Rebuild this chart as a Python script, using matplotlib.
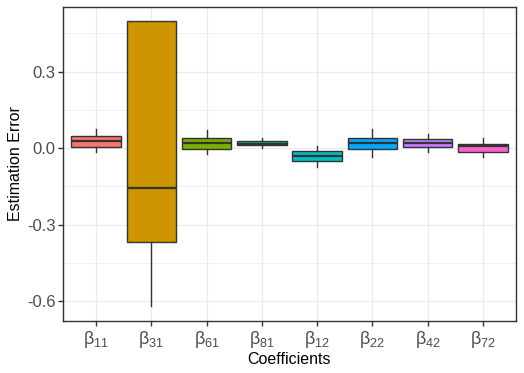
import matplotlib
matplotlib.use("Agg")
import matplotlib.pyplot as plt
from matplotlib.ticker import MultipleLocator

plt.rcParams['font.family'] = ['Liberation Sans', 'DejaVu Sans']
plt.rcParams['mathtext.fontset'] = 'custom'
plt.rcParams['mathtext.rm'] = 'Liberation Sans'
plt.rcParams['mathtext.it'] = 'Liberation Sans'
plt.rcParams['mathtext.default'] = 'regular'

categories = ["11", "31", "61", "81", "12", "22", "42", "72"]
whisker_low = [-0.014, -0.620, -0.022, 0.001, -0.073, -0.034, -0.014, -0.034]
q1 = [0.005, -0.369, -0.003, 0.011, -0.050, -0.005, 0.005, -0.014]
median = [0.027, -0.157, 0.021, 0.017, -0.031, 0.020, 0.020, 0.009]
q3 = [0.047, 0.498, 0.038, 0.026, -0.013, 0.038, 0.034, 0.016]
whisker_high = [0.074, 0.498, 0.071, 0.039, 0.008, 0.074, 0.056, 0.039]
colors = ["#F8766D", "#CD9600", "#7CAE00", "#00BE67", "#00BFC4", "#00A9FF", "#C77CFF", "#FF61CC"]

fig = plt.figure(figsize=(5.24, 3.73), dpi=100)
ax = fig.add_axes([63/524, 1-321/373, (516-63)/524, (321-7)/373])

stats = []
for i in range(len(categories)):
    stats.append(dict(med=median[i], q1=q1[i], q3=q3[i],
                      whislo=whisker_low[i], whishi=whisker_high[i], fliers=[]))
pos = list(range(1, len(categories)+1))
bp = ax.bxp(stats, positions=pos, widths=0.9, patch_artist=True, showcaps=False,
            boxprops=dict(edgecolor="#333333", linewidth=1.0),
            medianprops=dict(color="#333333", linewidth=1.6),
            whiskerprops=dict(color="#333333", linewidth=1.0), zorder=3)
for patch, c in zip(bp['boxes'], colors):
    patch.set_facecolor(c)

ax.set_xlim(0.4, 8.6)
ax.set_ylim(-0.678, 0.553)
ax.set_yticks([-0.6, -0.3, 0.0, 0.3])
ax.set_yticklabels(["-0.6", "-0.3", "0.0", "0.3"])
ax.yaxis.set_minor_locator(MultipleLocator(0.15))
ax.set_xticks(pos)
ax.set_xticklabels([r"β$_{%s}$" % c for c in categories])

ax.grid(True, which='major', color="#EBEBEB", linewidth=1.0, zorder=0)
ax.grid(True, which='minor', axis='y', color="#EBEBEB", linewidth=0.5, zorder=0)
ax.set_axisbelow(True)
for s in ax.spines.values():
    s.set_color("#333333")
    s.set_linewidth(1.0)
ax.tick_params(axis='both', which='major', length=3.5, width=1.0, color="#333333",
               labelcolor="#4D4D4D")
ax.tick_params(axis='y', labelsize=12, pad=2)
ax.tick_params(axis='x', labelsize=13, pad=2)
ax.tick_params(which='minor', length=0)

ax.set_xlabel("Coefficients", fontsize=11.5, color="black", labelpad=2)
ax.set_ylabel("Estimation Error", fontsize=11.5, color="black", labelpad=3)

fig.savefig("out.png", dpi=100)
